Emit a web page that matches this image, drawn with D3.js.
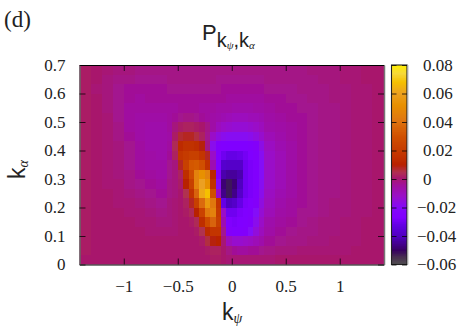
<!DOCTYPE html>
<html>
<head>
<meta charset="utf-8">
<script src="https://cdn.jsdelivr.net/npm/d3@7"></script>
<style>
  body { margin: 0; background: white; }
  svg { display: block; }
  text { font-family: "Liberation Serif", serif; fill: #222; }
  .sans, .sans text { font-family: "Liberation Sans", sans-serif; }
</style>
</head>
<body>
<div id="chart"></div>
<script>
// kpsi cell edges, finer around the two lobes
const kPsiEdges = [-1.41, -1.3, -1.2, -1.1, -1.0, -0.9, -0.8, -0.7, -0.6,
  -0.55, -0.5, -0.45, -0.4, -0.35, -0.3, -0.25, -0.2, -0.15, -0.1, -0.05, 0,
  0.05, 0.1, 0.15, 0.2, 0.25, 0.3,
  0.4, 0.5, 0.6, 0.7, 0.8, 0.9, 1.0, 1.1, 1.2, 1.3, 1.41];

const alphaRows = 21;
const alphaMax = 0.7;

// P values x 1000, top row (k_alpha = 0.7) first
const pValues = [
  [2,1,0,-1,-1,-2,-2,-2, -2,-2,-2,-2,-2,-2,-2,-2,-2,-2,-2,-2,-2,-2,-2,-2,-2,-2, -2,-2,-2,-2,-1,-1,-1,0,0,1,1],
  [2,1,-1,-2,-2,-3,-3,-3, -2,-2,-2,-2,-2,-2,-2,-2,-2,-3,-3,-3,-3,-3,-3,-3,-3,-3, -2,-2,-2,-2,-2,-1,-1,0,0,1,1],
  [2,0,-1,-3,-4,-4,-4,-4, -3,-3,-3,-3,-3,-3,-3,-3,-3,-3,-4,-4,-4,-4,-4,-4,-4,-4, -3,-3,-3,-2,-2,-2,-1,-1,0,0,1],
  [2,1,-1,-3,-4,-5,-4,-4, -4,-4,-4,-4,-4,-4,-4,-4,-4,-4,-4,-5,-5,-5,-5,-5,-5,-5, -4,-4,-3,-3,-2,-2,-1,-1,0,0,1],
  [2,1,-1,-3,-5,-5,-5,-5, -5,-5,-4,-4,-4,-4,-5,-5,-5,-6,-6,-6,-7,-7,-7,-7,-6,-6, -5,-4,-4,-3,-3,-2,-2,-1,0,0,1],
  [2,1,0,-3,-5,-6,-6,-6, -5,-4,-3,-2,-2,-3,-4,-5,-6,-7,-8,-9,-10,-10,-10,-9,-9,-8, -6,-5,-4,-4,-3,-2,-2,-1,0,0,1],
  [2,1,0,-2,-5,-6,-7,-7, -5,-1,2,3,3,2,1,-2,-6,-10,-12,-13,-14,-14,-14,-13,-12,-10, -7,-6,-5,-4,-3,-2,-2,-1,0,0,1],
  [2,1,0,-2,-4,-6,-7,-7, -6,2,7,8,8,6,3,-3,-12,-16,-18,-19,-19,-19,-19,-18,-16,-13, -9,-7,-5,-4,-3,-2,-2,-1,0,0,1],
  [2,1,0,-1,-3,-5,-7,-7, -5,4,13,15,15,14,9,-2,-18,-24,-26,-27,-27,-27,-27,-25,-22,-17, -11,-8,-6,-4,-3,-2,-2,-1,0,0,1],
  [2,1,0,-1,-3,-5,-6,-7, -4,3,17,20,22,22,18,8,-12,-26,-30,-32,-32,-31,-29,-27,-24,-19, -12,-9,-6,-4,-3,-2,-2,-1,0,0,1],
  [2,1,0,-1,-3,-5,-6,-6, -3,-1,8,22,32,33,30,16,-8,-27,-37,-38,-38,-38,-30,-28,-25,-20, -12,-9,-6,-4,-3,-2,-2,-1,0,0,1],
  [2,1,0,-1,-2,-4,-5,-6, -3,-1,3,14,28,46,52,46,12,-22,-42,-44,-44,-42,-30,-28,-25,-20, -12,-9,-6,-4,-3,-2,-2,-1,0,0,1],
  [2,1,0,0,-2,-3,-4,-5, -2,-1,2,10,22,46,60,52,16,-20,-48,-52,-48,-40,-30,-28,-25,-19, -12,-9,-6,-4,-3,-2,-2,-1,0,0,1],
  [2,1,1,0,-1,-2,-3,-4, -2,-1,1,5,16,36,62,68,30,-12,-46,-52,-46,-38,-30,-28,-24,-18, -11,-8,-6,-4,-3,-2,-2,-1,0,0,1],
  [2,1,1,0,0,-1,-2,-3, -1,0,1,3,8,22,38,56,42,18,-32,-40,-38,-32,-28,-26,-22,-16, -10,-7,-5,-4,-3,-2,-1,-1,0,0,1],
  [2,1,1,1,0,0,-1,-2, -1,0,1,2,4,10,24,42,46,20,-12,-30,-30,-28,-27,-25,-20,-14, -9,-6,-5,-3,-3,-2,-1,-1,0,0,1],
  [2,1,1,1,1,0,0,-1, -1,0,1,1,2,4,14,28,36,22,-8,-26,-28,-27,-26,-23,-18,-12, -7,-5,-4,-3,-2,-1,-1,0,0,1,1],
  [2,1,1,1,1,1,0,0, 0,0,1,1,1,2,5,13,18,18,-3,-22,-25,-25,-23,-20,-15,-10, -6,-4,-3,-2,-2,-1,-1,0,0,1,1],
  [2,1,1,1,1,1,1,1, 1,1,1,1,1,1,2,6,9,10,0,-10,-13,-13,-12,-11,-9,-7, -4,-3,-2,-2,-1,-1,0,0,0,1,1],
  [2,1,1,1,1,1,1,1, 1,1,1,1,1,1,1,2,3,3,1,-2,-4,-5,-5,-4,-4,-3, -2,-1,-1,0,0,0,0,0,1,1,1],
  [1,1,1,1,1,1,1,1, 1,1,1,1,1,1,1,1,2,2,1,0,0,0,0,0,0,0, 0,1,1,1,1,1,1,1,1,1,1]
];

// colour bar stops, value x 1000
const paletteValues = [-60, -55, -50, -47, -40, -33, -27, -20, -12, -5, 1, 5, 10, 15, 30, 42, 52, 60, 68, 74, 80];
const paletteColors = ["#505050", "#483050", "#360060", "#400080", "#5000c0", "#6000e0", "#8000ff", "#8408f8",
  "#9a10c8", "#a010a0", "#a8186c", "#b03050", "#b82000", "#c03000", "#d05000", "#e07810", "#e89000",
  "#eca020", "#f5c000", "#f6d83a", "#ffee00"];

const xTicks = [-1, -0.5, 0, 0.5, 1];
const yTicks = [0, 0.1, 0.2, 0.3, 0.4, 0.5, 0.6, 0.7];
const barTicks = [-0.06, -0.04, -0.02, 0, 0.02, 0.04, 0.06, 0.08];

const width = 463;
const height = 330;
const plotLeft = 79.5;
const plotRight = 384;
const plotTop = 65;
const plotBottom = 264.5;
const barLeft = 391.5;
const barRight = 407;

const svg = d3.select("#chart").append("svg")
    .attr("width", width)
    .attr("height", height);

const x = d3.scaleLinear().domain([-1.41, 1.41]).range([plotLeft, plotRight]);
const y = d3.scaleLinear().domain([0, alphaMax]).range([plotBottom, plotTop]);
const barY = d3.scaleLinear().domain([-0.06, 0.08]).range([plotBottom, plotTop]);
const color = d3.scaleLinear().domain(paletteValues).range(paletteColors);

// Slight softening of the cells, clipped to the frame
const defs = svg.append("defs");
defs.append("clipPath").attr("id", "plotClip")
  .append("rect")
    .attr("x", plotLeft).attr("y", plotTop)
    .attr("width", plotRight - plotLeft).attr("height", plotBottom - plotTop);
defs.append("filter").attr("id", "soft")
    .attr("filterUnits", "userSpaceOnUse")
    .attr("x", 60).attr("y", 45).attr("width", 345).attr("height", 240)
  .append("feGaussianBlur").attr("stdDeviation", 0.7);

// Heat map cells
const rowStep = alphaMax / alphaRows;
svg.append("g").attr("clip-path", "url(#plotClip)")
  .append("g").attr("filter", "url(#soft)").attr("shape-rendering", "crispEdges")
  .selectAll("g")
  .data(pValues)
  .join("g")
  .each(function(row, r) {
    d3.select(this).selectAll("rect")
      .data(row)
      .join("rect")
      .attr("x", (d, c) => x(kPsiEdges[c]) - (c === 0 ? 4 : 0))
      .attr("width", (d, c) => x(kPsiEdges[c + 1]) - x(kPsiEdges[c]) + (c === 0 || c === row.length - 1 ? 4 : 0.5))
      .attr("y", y(alphaMax - r * rowStep) - (r === 0 ? 4 : 0))
      .attr("height", y(alphaMax - (r + 1) * rowStep) - y(alphaMax - r * rowStep) + (r === 0 || r === alphaRows - 1 ? 4 : 0.5))
      .attr("fill", d => color(d));
  });

// Colour bar
svg.append("g").attr("shape-rendering", "crispEdges")
  .selectAll("rect")
  .data(d3.range(-60, 80, 0.5))
  .join("rect")
  .attr("x", barLeft)
  .attr("width", barRight - barLeft)
  .attr("y", d => barY((d + 0.5) / 1000))
  .attr("height", d => barY(d / 1000) - barY((d + 0.5) / 1000) + 0.5)
  .attr("fill", d => color(d));

// Axes, ticks point inwards
function styleAxis(g) {
  g.select(".domain").attr("stroke", "#000").attr("stroke-width", 1.2);
  g.selectAll(".tick line").attr("stroke", "#000").attr("stroke-opacity", 0.75);
  g.selectAll("text").attr("font-size", 17).attr("fill", "#222");
}

svg.append("g")
    .attr("transform", `translate(0,${plotBottom})`)
    .call(d3.axisBottom(x).tickValues(xTicks).tickFormat(d3.format("")).tickSizeInner(-6).tickSizeOuter(0).tickPadding(15))
    .call(styleAxis);
svg.append("g")
    .attr("transform", `translate(0,${plotTop})`)
    .call(d3.axisTop(x).tickValues(xTicks).tickFormat("").tickSizeInner(-6).tickSizeOuter(0))
    .call(styleAxis);
svg.append("g")
    .attr("transform", `translate(${plotLeft},0)`)
    .call(d3.axisLeft(y).tickValues(yTicks).tickFormat(d3.format("")).tickSizeInner(-6).tickSizeOuter(0).tickPadding(14))
    .call(styleAxis)
    .call(g => g.select(".domain").attr("stroke", "#666").attr("stroke-width", 1.5));
svg.append("g")
    .attr("transform", `translate(${plotRight},0)`)
    .call(d3.axisRight(y).tickValues(yTicks).tickFormat("").tickSizeInner(-6).tickSizeOuter(0))
    .call(styleAxis)
    .call(g => g.select(".domain").attr("stroke", "#777").attr("stroke-width", 1.5));

// Colour bar frame and ticks
svg.append("rect")
    .attr("x", barLeft).attr("y", plotTop)
    .attr("width", barRight - barLeft).attr("height", plotBottom - plotTop)
    .attr("fill", "none").attr("stroke", "#222").attr("stroke-width", 1.1);
svg.append("line")
    .attr("x1", barRight + 1).attr("x2", barRight + 1)
    .attr("y1", plotTop).attr("y2", plotBottom)
    .attr("stroke", "#bbb");
svg.append("g")
    .attr("transform", `translate(${barLeft},0)`)
    .call(d3.axisRight(barY).tickValues(barTicks).tickFormat(d3.format("")).tickSizeInner(5).tickSizeOuter(0).tickPadding(26))
    .call(styleAxis)
    .call(g => g.select(".domain").remove())
    .call(g => g.selectAll("text").attr("x", d => d < 0 ? 25.5 : 31.5));
svg.append("g")
    .attr("transform", `translate(${barRight},0)`)
    .call(d3.axisLeft(barY).tickValues(barTicks).tickFormat("").tickSizeInner(5).tickSizeOuter(0))
    .call(styleAxis)
    .call(g => g.select(".domain").remove());

// Labels
svg.append("text")
    .attr("x", 4).attr("y", 27)
    .attr("font-size", 23)
    .text("(d)");

const title = svg.append("text").attr("class", "sans").attr("x", 202).attr("y", 40).attr("font-size", 22);
title.append("tspan").text("P");
title.append("tspan").attr("font-size", 20).attr("dy", 7).text("k");
title.append("tspan").attr("font-size", 11).attr("dy", 2).attr("font-style", "italic").attr("font-family", "Liberation Serif").text("ψ");
title.append("tspan").attr("font-size", 20).attr("dy", -2).text(",k");
title.append("tspan").attr("font-size", 11).attr("dy", 2).attr("font-style", "italic").attr("font-family", "Liberation Serif").text("α");

const xLabel = svg.append("text").attr("class", "sans").attr("x", 222).attr("y", 320).attr("font-size", 23);
xLabel.append("tspan").text("k");
xLabel.append("tspan").attr("font-size", 14).attr("dy", 3).attr("font-style", "italic").attr("font-family", "Liberation Serif").text("ψ");

const yLabel = svg.append("text").attr("class", "sans")
    .attr("transform", "translate(25,179) rotate(-90)")
    .attr("font-size", 23);
yLabel.append("tspan").text("k");
yLabel.append("tspan").attr("font-size", 14).attr("dy", 3).attr("font-style", "italic").attr("font-family", "Liberation Serif").text("α");
</script>
</body>
</html>
